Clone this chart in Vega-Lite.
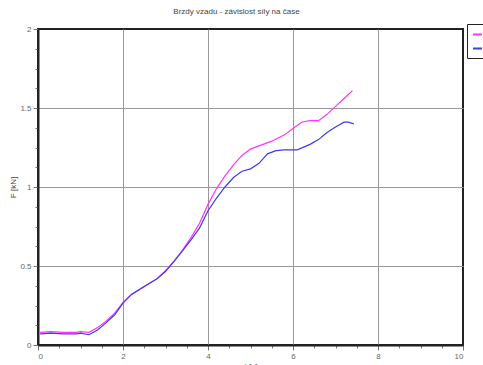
{
  "$schema": "https://vega.github.io/schema/vega-lite/v6.json",
  "width": 425,
  "height": 316,
  "autosize": {"type": "none"},
  "padding": {"left": 38, "top": 29, "right": 20, "bottom": 20},
  "background": "white",
  "title": {
    "text": "Brzdy vzadu - závislost síly na čase",
    "fontSize": 8,
    "fontWeight": "normal",
    "color": "#444",
    "font": "Liberation Sans",
    "anchor": "middle",
    "dx": -14,
    "offset": 8
  },
  "config": {
    "view": {"stroke": "#222", "strokeWidth": 2},
    "axis": {
      "labelFont": "Liberation Sans",
      "labelFontSize": 8,
      "labelColor": "#666",
      "titleFont": "Liberation Sans",
      "titleFontSize": 8,
      "titleFontWeight": "normal",
      "titleColor": "#444",
      "domainColor": "#222",
      "domainWidth": 2,
      "tickColor": "#777",
      "gridColor": "#999",
      "gridWidth": 1
    }
  },
  "data": {
    "values": [
      {"t": 0.05, "F": 0.08, "s": "levé kolo"},
      {"t": 0.3, "F": 0.085, "s": "levé kolo"},
      {"t": 0.6, "F": 0.08, "s": "levé kolo"},
      {"t": 0.9, "F": 0.08, "s": "levé kolo"},
      {"t": 1.0, "F": 0.085, "s": "levé kolo"},
      {"t": 1.2, "F": 0.08, "s": "levé kolo"},
      {"t": 1.4, "F": 0.11, "s": "levé kolo"},
      {"t": 1.6, "F": 0.15, "s": "levé kolo"},
      {"t": 1.8, "F": 0.2, "s": "levé kolo"},
      {"t": 2.0, "F": 0.27, "s": "levé kolo"},
      {"t": 2.2, "F": 0.32, "s": "levé kolo"},
      {"t": 2.5, "F": 0.37, "s": "levé kolo"},
      {"t": 2.8, "F": 0.42, "s": "levé kolo"},
      {"t": 3.0, "F": 0.47, "s": "levé kolo"},
      {"t": 3.2, "F": 0.53, "s": "levé kolo"},
      {"t": 3.4, "F": 0.6, "s": "levé kolo"},
      {"t": 3.6, "F": 0.68, "s": "levé kolo"},
      {"t": 3.8, "F": 0.77, "s": "levé kolo"},
      {"t": 4.0, "F": 0.89, "s": "levé kolo"},
      {"t": 4.2, "F": 0.99, "s": "levé kolo"},
      {"t": 4.4, "F": 1.07, "s": "levé kolo"},
      {"t": 4.6, "F": 1.14, "s": "levé kolo"},
      {"t": 4.8, "F": 1.2, "s": "levé kolo"},
      {"t": 5.0, "F": 1.24, "s": "levé kolo"},
      {"t": 5.2, "F": 1.26, "s": "levé kolo"},
      {"t": 5.5, "F": 1.29, "s": "levé kolo"},
      {"t": 5.8, "F": 1.33, "s": "levé kolo"},
      {"t": 6.0, "F": 1.37, "s": "levé kolo"},
      {"t": 6.2, "F": 1.41, "s": "levé kolo"},
      {"t": 6.4, "F": 1.42, "s": "levé kolo"},
      {"t": 6.6, "F": 1.42, "s": "levé kolo"},
      {"t": 6.8, "F": 1.46, "s": "levé kolo"},
      {"t": 7.0, "F": 1.51, "s": "levé kolo"},
      {"t": 7.2, "F": 1.56, "s": "levé kolo"},
      {"t": 7.4, "F": 1.61, "s": "levé kolo"},
      {"t": 0.05, "F": 0.07, "s": "pravé kolo"},
      {"t": 0.3, "F": 0.075, "s": "pravé kolo"},
      {"t": 0.6, "F": 0.07, "s": "pravé kolo"},
      {"t": 0.9, "F": 0.07, "s": "pravé kolo"},
      {"t": 1.0, "F": 0.075, "s": "pravé kolo"},
      {"t": 1.2, "F": 0.065, "s": "pravé kolo"},
      {"t": 1.4, "F": 0.095, "s": "pravé kolo"},
      {"t": 1.6, "F": 0.14, "s": "pravé kolo"},
      {"t": 1.8, "F": 0.19, "s": "pravé kolo"},
      {"t": 2.0, "F": 0.265, "s": "pravé kolo"},
      {"t": 2.2, "F": 0.32, "s": "pravé kolo"},
      {"t": 2.5, "F": 0.37, "s": "pravé kolo"},
      {"t": 2.8, "F": 0.42, "s": "pravé kolo"},
      {"t": 3.0, "F": 0.465, "s": "pravé kolo"},
      {"t": 3.2, "F": 0.53, "s": "pravé kolo"},
      {"t": 3.4, "F": 0.595, "s": "pravé kolo"},
      {"t": 3.6, "F": 0.665, "s": "pravé kolo"},
      {"t": 3.8, "F": 0.74, "s": "pravé kolo"},
      {"t": 4.0, "F": 0.85, "s": "pravé kolo"},
      {"t": 4.2, "F": 0.93, "s": "pravé kolo"},
      {"t": 4.4, "F": 1.0, "s": "pravé kolo"},
      {"t": 4.6, "F": 1.06, "s": "pravé kolo"},
      {"t": 4.8, "F": 1.1, "s": "pravé kolo"},
      {"t": 5.0, "F": 1.115, "s": "pravé kolo"},
      {"t": 5.2, "F": 1.15, "s": "pravé kolo"},
      {"t": 5.4, "F": 1.21, "s": "pravé kolo"},
      {"t": 5.6, "F": 1.23, "s": "pravé kolo"},
      {"t": 5.8, "F": 1.235, "s": "pravé kolo"},
      {"t": 6.1, "F": 1.235, "s": "pravé kolo"},
      {"t": 6.4, "F": 1.27, "s": "pravé kolo"},
      {"t": 6.6, "F": 1.3, "s": "pravé kolo"},
      {"t": 6.8, "F": 1.345, "s": "pravé kolo"},
      {"t": 7.0, "F": 1.38, "s": "pravé kolo"},
      {"t": 7.2, "F": 1.41, "s": "pravé kolo"},
      {"t": 7.3, "F": 1.41, "s": "pravé kolo"},
      {"t": 7.43, "F": 1.4, "s": "pravé kolo"}
    ]
  },
  "mark": {"type": "line", "strokeWidth": 1.2},
  "encoding": {
    "x": {
      "field": "t",
      "type": "quantitative",
      "scale": {"domain": [0, 10], "nice": false, "zero": false},
      "axis": {
        "title": "t [s]",
        "values": [0, 0.5, 1, 1.5, 2, 2.5, 3, 3.5, 4, 4.5, 5, 5.5, 6, 6.5, 7, 7.5, 8, 8.5, 9, 9.5, 10],
        "labelExpr": "datum.value % 2 === 0 ? '' + datum.value : ''",
        "tickSize": {"condition": {"test": "datum.value % 2 === 0", "value": 5}, "value": 3},
        "gridOpacity": {"condition": {"test": "datum.value % 2 === 0 && datum.value > 0 && datum.value < 10", "value": 1}, "value": 0},
        "labelPadding": 2,
        "labelOverlap": false,
        "titlePadding": 2
      }
    },
    "y": {
      "field": "F",
      "type": "quantitative",
      "scale": {"domain": [0, 2], "nice": false, "zero": false},
      "axis": {
        "title": "F [kN]",
        "values": [0, 0.125, 0.25, 0.375, 0.5, 0.625, 0.75, 0.875, 1, 1.125, 1.25, 1.375, 1.5, 1.625, 1.75, 1.875, 2],
        "labelExpr": "datum.value % 0.5 === 0 ? '' + datum.value : ''",
        "tickSize": {"condition": {"test": "datum.value % 0.5 === 0", "value": 5}, "value": 3},
        "gridOpacity": {"condition": {"test": "datum.value % 0.5 === 0 && datum.value > 0 && datum.value < 2", "value": 1}, "value": 0},
        "labelPadding": 2,
        "labelOverlap": false,
        "titlePadding": 2
      }
    },
    "color": {
      "field": "s",
      "type": "nominal",
      "scale": {"domain": ["levé kolo", "pravé kolo"], "range": ["#ff33ff", "#3c3cf0"]},
      "legend": {
        "title": null,
        "orient": "none",
        "legendX": 429,
        "legendY": -5,
        "strokeColor": "#222",
        "fillColor": "white",
        "padding": 5,
        "symbolType": "stroke",
        "symbolSize": 80,
        "symbolStrokeWidth": 2,
        "labelFontSize": 8,
        "labelFont": "Liberation Sans",
        "rowPadding": 4
      }
    }
  }
}
